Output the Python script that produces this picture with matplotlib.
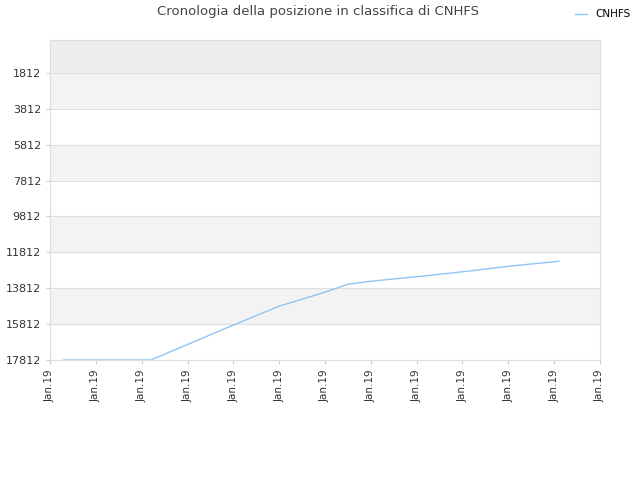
import matplotlib
matplotlib.use("Agg")
import matplotlib.pyplot as plt

x_pos = [0.3, 2.2, 4.0, 5.0, 6.0, 6.5, 7.0, 8.1, 9.1, 10.0, 11.1]
ranks = [17812, 17812, 15868, 14812, 14034, 13590, 13423, 13145, 12868, 12590, 12312]
yticks = [1812, 3812, 5812, 7812, 9812, 11812, 13812, 15812, 17812]
xlabels = ["Jan.19"] * 13

fig = plt.figure(figsize=(6.4, 4.8), dpi=100)
ax = fig.add_axes([50/640, 120/480, 550/640, 320/480])
ymin, ymax = -20, 17812
ax.set_ylim(ymax, ymin)
ax.set_xlim(0, 12)
# bands
edges = [ymin] + yticks
for i in range(len(edges) - 1):
    if i == 0:
        c = "#eeeeee"
    elif i % 2 == 1:
        c = "#f3f3f3"
    else:
        c = "#ffffff"
    ax.axhspan(edges[i], edges[i+1], color=c, zorder=0, lw=0)
for y in yticks:
    ax.axhline(y, color="#e0e0e0", lw=0.8, zorder=1)
ax.plot(x_pos, ranks, color="#90c4f5", lw=1, label="CNHFS", zorder=3)
ax.set_yticks(yticks)
ax.set_yticklabels([str(v) for v in yticks], fontsize=8, color="#333333")
ax.set_xticks(range(13))
ax.set_xticklabels(xlabels, rotation=90, fontsize=7.5, color="#333333")
for s in ax.spines.values():
    s.set_color("#dddddd")
ax.tick_params(length=3, color="#cccccc")
fig.text(318/640, 1 - 12/480, "Cronologia della posizione in classifica di CNHFS",
         ha="center", va="center", fontsize=9.5, color="#444444")
leg = fig.legend(loc="upper right", bbox_to_anchor=(1.0, 1.0), frameon=False, fontsize=7.5,
                 handlelength=1.2)
fig.savefig("out.png", dpi=100)
